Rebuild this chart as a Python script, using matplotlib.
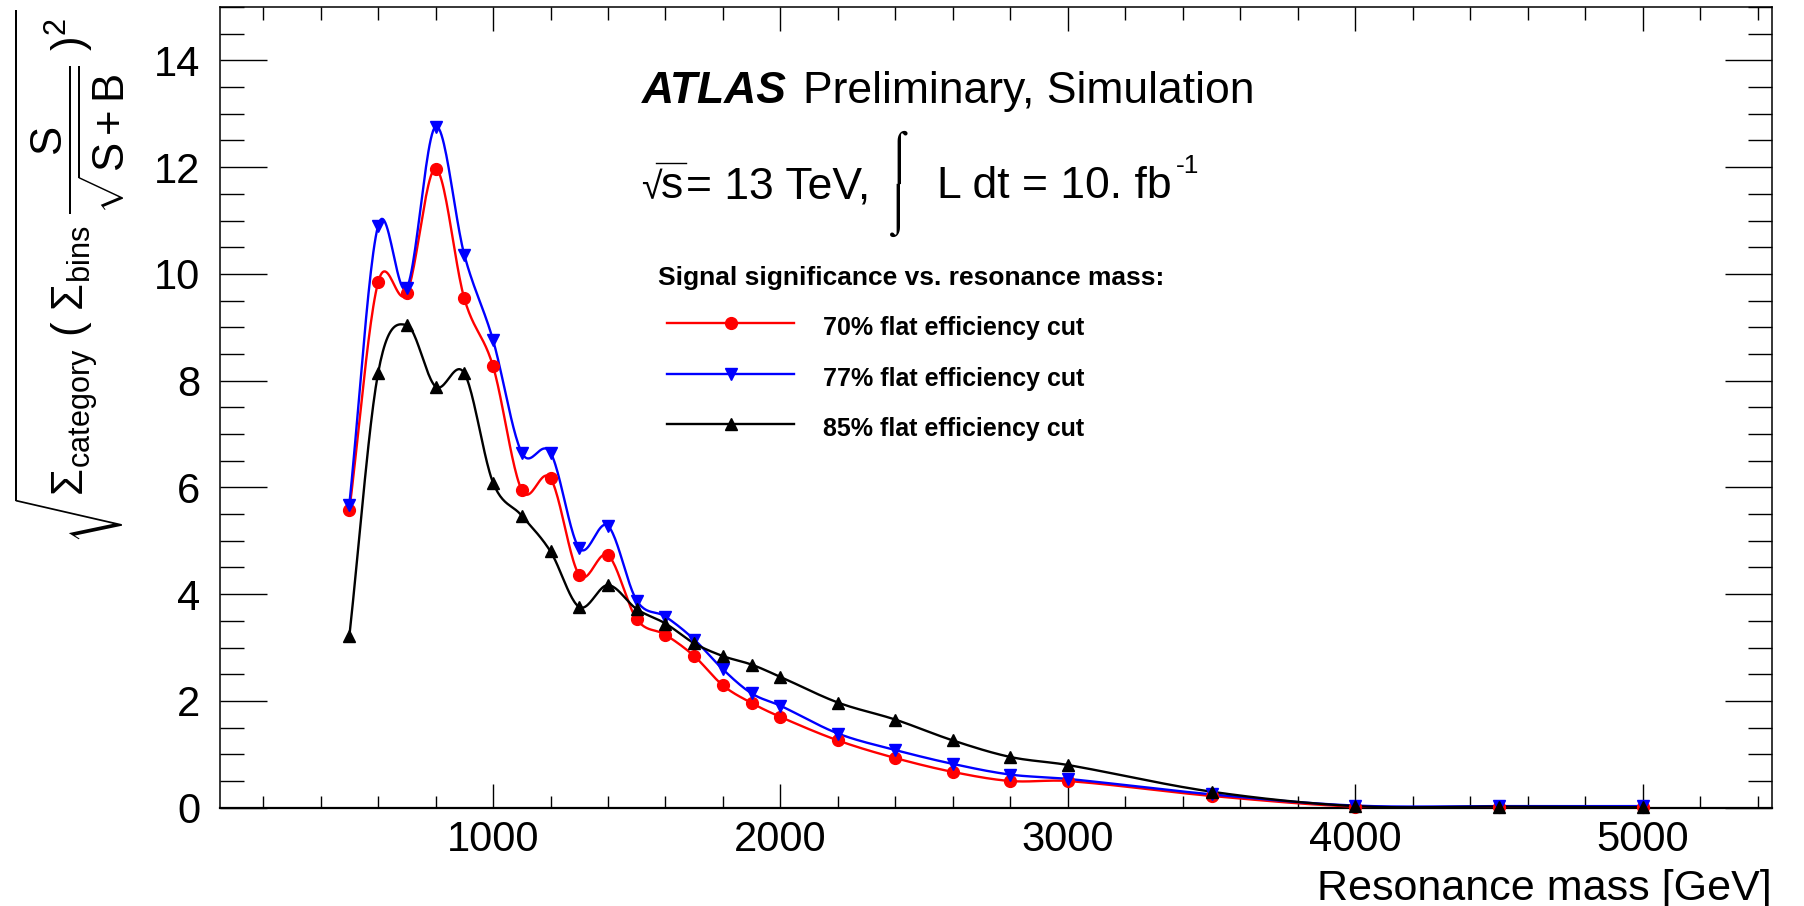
import numpy as np
import matplotlib
matplotlib.use("Agg")
import matplotlib.pyplot as plt
from matplotlib.ticker import MultipleLocator, FixedLocator
from matplotlib.lines import Line2D

plt.rcParams['font.family'] = ['Liberation Sans', 'DejaVu Sans']
plt.rcParams['mathtext.fontset'] = 'custom'
plt.rcParams['mathtext.rm'] = 'Liberation Sans'
plt.rcParams['mathtext.it'] = 'Liberation Sans:italic'
plt.rcParams['mathtext.bf'] = 'Liberation Sans:bold'

# ---------------- data ----------------
mass = [500, 600, 700, 800, 900, 1000, 1100, 1200, 1300, 1400, 1500, 1600, 1700,
        1800, 1900, 2000, 2200, 2400, 2600, 2800, 3000, 3500, 4000, 4500, 5000]
eff70 = [5.57, 9.84, 9.64, 11.97, 9.54, 8.27, 5.95, 6.17, 4.36, 4.73, 3.53, 3.24, 2.84,
         2.29, 1.96, 1.70, 1.26, 0.93, 0.67, 0.50, 0.50, 0.22, 0.02, 0.01, 0.01]
eff77 = [5.68, 10.90, 9.74, 12.76, 10.36, 8.76, 6.65, 6.65, 4.86, 5.28, 3.88, 3.58, 3.15,
         2.59, 2.14, 1.91, 1.39, 1.08, 0.82, 0.62, 0.54, 0.25, 0.04, 0.03, 0.03]
eff85 = [3.21, 8.14, 9.04, 7.89, 8.14, 6.09, 5.47, 4.80, 3.76, 4.17, 3.72, 3.45, 3.08,
         2.84, 2.68, 2.45, 1.97, 1.65, 1.26, 0.95, 0.80, 0.30, 0.03, 0.02, 0.01]
labels = ['70% flat efficiency cut', '77% flat efficiency cut', '85% flat efficiency cut']
colors = ['#ff0000', '#0000ff', '#000000']
markers = ['o', 'v', '^']
xticks_major = [1000, 2000, 3000, 4000, 5000]


def smooth_curve(x, y, n=24):
    """Cubic Hermite curve through the points (ROOT 'C' style drawing)."""
    x = np.asarray(x, float)
    y = np.asarray(y, float)
    m = np.empty_like(y)
    m[1:-1] = (y[2:] - y[:-2]) / (x[2:] - x[:-2])
    m[0] = (y[1] - y[0]) / (x[1] - x[0])
    m[-1] = (y[-1] - y[-2]) / (x[-1] - x[-2])
    xs, ys = [], []
    for i in range(len(x) - 1):
        h = x[i + 1] - x[i]
        t = np.linspace(0, 1, n, endpoint=False)
        h00 = 2 * t**3 - 3 * t**2 + 1
        h10 = t**3 - 2 * t**2 + t
        h01 = -2 * t**3 + 3 * t**2
        h11 = t**3 - t**2
        xs.append(x[i] + t * h)
        ys.append(h00 * y[i] + h10 * h * m[i] + h01 * y[i + 1] + h11 * h * m[i + 1])
    xs.append([x[-1]])
    ys.append([y[-1]])
    return np.concatenate(xs), np.clip(np.concatenate(ys), 0, None)


W, H = 1804, 906
fig = plt.figure(figsize=(W / 100, H / 100), dpi=100)
ax_l, ax_r, ax_t, ax_b = 220, 1772, 7, 807.7
ax = fig.add_axes([ax_l / W, 1 - ax_b / H, (ax_r - ax_l) / W, (ax_b - ax_t) / H])


def fx(px):
    return px / W


def fy(py):
    return 1 - py / H


series = [eff70, eff77, eff85]
msizes = [8.5, 9, 8.5]
for ys, c, mk, ms in zip(series, colors, markers, msizes):
    sx, sy = smooth_curve(mass, ys)
    ax.plot(sx, sy, color=c, lw=1.7, zorder=3)
    ax.plot(mass, ys, ls='none', marker=mk, color=c, ms=ms, zorder=4, clip_on=False)

ax.set_xlim(50, 5450)
ax.set_ylim(0, 15)
ax.xaxis.set_major_locator(FixedLocator(xticks_major))
ax.xaxis.set_minor_locator(MultipleLocator(200))
ax.yaxis.set_major_locator(MultipleLocator(2))
ax.yaxis.set_minor_locator(MultipleLocator(0.5))
ax.tick_params(axis='both', which='both', direction='in', top=True, right=True,
               labelsize=30, width=1.0, color='black')
ax.tick_params(axis='y', which='major', length=34, pad=14)
ax.tick_params(axis='y', which='minor', length=17)
ax.tick_params(axis='x', which='major', length=17, pad=9)
ax.tick_params(axis='x', which='minor', length=9)
for s in ax.spines.values():
    s.set_linewidth(1.1)
ax.spines['bottom'].set_linewidth(1.6)

# x label
fig.text(fx(ax_r), fy(900), 'Resonance mass [GeV]', ha='right', va='baseline', fontsize=31)

# y label
ylab = (r'$\sqrt{\Sigma_{\mathrm{category}}\ (\ \Sigma_{\mathrm{bins}}\ '
        r'\dfrac{\mathrm{S}}{\sqrt{\mathrm{S+B}}}\ )^{2}}$')
fig.text(fx(70), fy(9), ylab, rotation=90, ha='center', va='top', fontsize=31.5)

# ATLAS header
fig.text(fx(642), fy(103), 'ATLAS', fontsize=32, fontweight='bold', fontstyle='italic',
         ha='left', va='baseline')
fig.text(fx(803), fy(103), 'Preliminary, Simulation', fontsize=32, ha='left', va='baseline')

# sqrt(s) = 13 TeV, int L dt = 10. fb^-1
fig.text(fx(641), fy(199), '\u221a', fontsize=27, ha='left', va='baseline')
fig.add_artist(Line2D([fx(656), fx(686)], [fy(163), fy(163)], color='black', lw=1.0,
                      transform=fig.transFigure))
fig.text(fx(661), fy(198), 's', fontsize=32, ha='left', va='baseline')
fig.text(fx(686), fy(198), '= 13 TeV,', fontsize=32, ha='left', va='baseline')
# large integral sign built from the top/bottom integral halves
fig.text(fx(884), fy(184), '\u2320', fontsize=34, ha='left', va='bottom')
fig.text(fx(884), fy(184), '\u2321', fontsize=34, ha='left', va='top')
fig.text(fx(937), fy(198), 'L dt = 10. fb', fontsize=32, ha='left', va='baseline')
fig.text(fx(1176), fy(173), '-1', fontsize=19, ha='left', va='baseline')

# legend (manual, ROOT TLegend style)
fig.text(fx(658), fy(285), 'Signal significance vs. resonance mass:', fontsize=19,
         fontweight='bold', ha='left', va='baseline')
leg_y = [323, 374, 424]
for yy, c, mk, ms, lab in zip(leg_y, colors, markers, msizes, labels):
    fig.add_artist(Line2D([fx(667), fx(794)], [fy(yy), fy(yy)], color=c, lw=1.7,
                          transform=fig.transFigure))
    fig.add_artist(Line2D([fx(731)], [fy(yy)], color=c, marker=mk, ms=ms,
                          ls='none', transform=fig.transFigure))
    fig.text(fx(823), fy(yy + 12), lab, fontsize=18, fontweight='bold',
             ha='left', va='baseline')

fig.savefig('out.png', dpi=100)
